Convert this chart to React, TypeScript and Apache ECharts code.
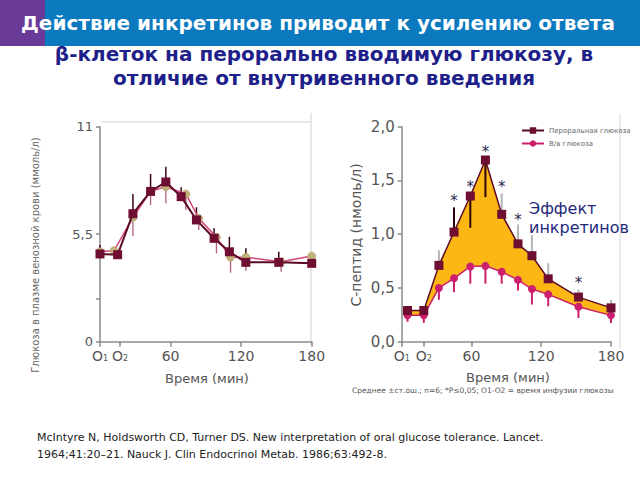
import React, { useEffect, useRef } from "react";
import * as echarts from "echarts";

// ---------- data ----------
const leftOralX = [0, 15, 28, 43, 56, 69, 82, 97, 110, 124, 152, 180];
const leftOralY = [4.49, 4.45, 6.55, 7.69, 8.17, 7.42, 6.23, 5.29, 4.6, 4.06, 4.06, 4.01];
const leftOralErrEnd = [4.95, 4.62, 7.56, 8.58, 8.95, 7.9, 6.88, 5.8, 5.37, 4.78, 4.6, 4.3];
const leftIvX = [0, 12, 28, 43, 56, 73, 84, 99, 111, 124, 154, 180];
const leftIvY = [4.6, 4.66, 6.36, 7.69, 7.93, 7.56, 6.31, 5.34, 4.32, 4.32, 4.09, 4.38];
const leftIvErrEnd = [4.3, 4.45, 5.41, 6.99, 7.08, 6.74, 5.71, 4.52, 3.53, 3.63, 3.58, 4.1];

const rightX = [5, 19, 32, 45, 59, 72, 86, 100, 112, 126, 152, 180];
const rightOralY = [0.29, 0.29, 0.71, 1.02, 1.355, 1.69, 1.185, 0.91, 0.8, 0.585, 0.415, 0.315];
const rightOralErrEnd = [0.33, 0.33, 0.85, 1.25, 1.06, 1.345, 1.38, 1.09, 0.99, 0.73, 0.485, 0.39];
const rightIvY = [0.245, 0.245, 0.5, 0.59, 0.7, 0.705, 0.65, 0.575, 0.49, 0.44, 0.325, 0.245];
const rightIvErrEnd = [0.185, 0.175, 0.39, 0.46, 0.54, 0.54, 0.54, 0.476, 0.346, 0.33, 0.22, 0.175];
const starX = [45, 59, 72, 86, 100, 152];
const starY = [1.35, 1.48, 1.8, 1.48, 1.17, 0.58];

const leftTickValues = [0, 17, 60, 120, 180];
const rightTickValues = [0, 19, 60, 120, 180];
const leftYLabels = [0, 5.5, 11];
const leftYTicks = [0, 2.2, 5.5, 11];

const seriesNames = ["Пероральная глюкоза", "В/в глюкоза"];
const titleLines = [
  "Действие инкретинов приводит к усилению ответа",
  "β-клеток на перорально вводимую глюкозу, в",
  "отличие от внутривенного введения",
];
const leftYName = "Глюкоза в плазме венозной крови (ммоль/л)";
const rightYName = "С-пептид (нмоль/л)";
const xName = "Время (мин)";
const effectText = ["Эффект", "инкретинов"];
const footnote = "Среднее ±ст.ош.; n=6; *P≤0,05; O1-O2 = время инфузии глюкозы";
const citation = [
  "McIntyre N, Holdsworth CD, Turner DS. New interpretation of oral glucose tolerance. Lancet.",
  "1964;41:20–21. Nauck J. Clin Endocrinol Metab. 1986;63:492-8.",
];

// ---------- styles ----------
const FONT = "DejaVu Sans";
const MAROON = "#6e0e32";
const MAROON_LINE = "#5a0a27";
const PINK = "#d4457a";
const TAN = "#c2b27a";
const MAGENTA = "#cc1f6e";
const ORANGE = "#fdb714";
const NAVY = "#1f1f8a";
const AXIS = "#8a8a8a";
const LABEL = "#555";
const darkOralErr = [3, 4, 5];

const zip = (xs: number[], ys: number[]) => xs.map((x, i) => [x, ys[i]]);
const zip3 = (xs: number[], ys: number[], es: number[]) => xs.map((x, i) => [x, ys[i], es[i]]);

const xLabelFormatter = (v: number, first: number, second: number) => {
  if (v === first) return "{o|O}{s|1}";
  if (v === second) return "{o|O}{s|2}";
  return String(v);
};

const rich = {
  o: { fontSize: 14, color: LABEL, fontFamily: FONT },
  s: { fontSize: 8, color: LABEL, fontFamily: FONT, verticalAlign: "bottom", padding: [6, 0, 0, 0] },
};

const errRender = (color: (i: number) => string, width: number) => (params: any, api: any) => {
  const p0 = api.coord([api.value(0), api.value(1)]);
  const p1 = api.coord([api.value(0), api.value(2)]);
  return {
    type: "line",
    shape: { x1: p0[0], y1: p0[1], x2: p1[0], y2: p1[1] },
    style: { stroke: color(params.dataIndex), lineWidth: width },
  };
};

export default function App() {
  const ref = useRef<HTMLDivElement>(null);

  useEffect(() => {
    if (!ref.current) return;
    const chart = echarts.init(ref.current, null, { renderer: "svg" });

    const option: any = {
      animation: false,
      backgroundColor: "#ffffff",
      legend: {
        data: seriesNames,
        orient: "vertical",
        left: 516,
        top: 122,
        itemWidth: 22,
        itemHeight: 8,
        itemGap: 6,
        textStyle: { fontSize: 7, color: "#666", fontFamily: FONT },
      },
      grid: [
        { left: 100, top: 126.7, width: 211.7, height: 215, containLabel: false },
        { left: 401.7, top: 126.7, width: 209.3, height: 215, containLabel: false },
      ],
      xAxis: [
        {
          gridIndex: 0,
          type: "value",
          min: 0,
          max: 180,
          splitLine: { show: false },
          axisLine: { lineStyle: { color: AXIS, width: 1.5 } },
          axisTick: { customValues: leftTickValues, length: 5, lineStyle: { color: AXIS, width: 1.5 } },
          axisLabel: {
            customValues: leftTickValues,
            formatter: (v: number) => xLabelFormatter(v, leftTickValues[0], leftTickValues[1]),
            rich,
            fontSize: 14,
            color: LABEL,
            fontFamily: FONT,
            margin: 7,
          },
        },
        {
          gridIndex: 1,
          type: "value",
          min: 0,
          max: 180,
          splitLine: { show: false },
          axisLine: { lineStyle: { color: AXIS, width: 1.5 } },
          axisTick: { customValues: rightTickValues, length: 5, lineStyle: { color: AXIS, width: 1.5 } },
          axisLabel: {
            customValues: rightTickValues,
            formatter: (v: number) => xLabelFormatter(v, rightTickValues[0], rightTickValues[1]),
            rich,
            fontSize: 14,
            color: LABEL,
            fontFamily: FONT,
            margin: 7,
          },
        },
      ],
      yAxis: [
        {
          gridIndex: 0,
          type: "value",
          min: 0,
          max: 11,
          splitLine: { show: false },
          axisLine: { show: true, lineStyle: { color: AXIS, width: 1.5 } },
          axisTick: { show: true, customValues: leftYTicks, length: 4, lineStyle: { color: AXIS, width: 1.5 } },
          axisLabel: {
            customValues: leftYLabels,
            formatter: (v: number) => String(v).replace(".", ","),
            fontSize: 13,
            color: LABEL,
            fontFamily: FONT,
            margin: 7,
          },
        },
        {
          gridIndex: 1,
          type: "value",
          min: 0,
          max: 2,
          interval: 0.5,
          splitLine: { show: false },
          axisLine: { show: true, lineStyle: { color: AXIS, width: 1.5 } },
          axisTick: { show: true, length: 4, lineStyle: { color: AXIS, width: 1.5 } },
          axisLabel: {
            formatter: (v: number) => v.toFixed(1).replace(".", ","),
            fontSize: 15,
            color: LABEL,
            fontFamily: FONT,
            margin: 7,
          },
        },
      ],
      series: [
        // ----- left chart -----
        {
          name: "left-oral-err",
          type: "custom",
          xAxisIndex: 0,
          yAxisIndex: 0,
          data: zip3(leftOralX, leftOralY, leftOralErrEnd),
          encode: { x: 0, y: [1, 2] },
          renderItem: errRender(() => "#3a0515", 1.5),
          z: 3,
        },
        {
          name: "left-iv-err",
          type: "custom",
          xAxisIndex: 0,
          yAxisIndex: 0,
          data: zip3(leftIvX, leftIvY, leftIvErrEnd),
          encode: { x: 0, y: [1, 2] },
          renderItem: errRender(() => "#b0607a", 1.3),
          z: 3,
        },
        {
          name: "left-iv",
          type: "line",
          xAxisIndex: 0,
          yAxisIndex: 0,
          data: zip(leftIvX, leftIvY),
          symbol: "circle",
          symbolSize: 8,
          lineStyle: { color: PINK, width: 1.5 },
          itemStyle: { color: TAN, borderColor: "#b09a60", borderWidth: 0.5 },
          z: 4,
        },
        {
          name: "left-oral",
          type: "line",
          xAxisIndex: 0,
          yAxisIndex: 0,
          data: zip(leftOralX, leftOralY),
          symbol: "rect",
          symbolSize: 9,
          lineStyle: { color: MAROON_LINE, width: 2 },
          itemStyle: { color: MAROON },
          z: 5,
        },
        // ----- right chart -----
        {
          name: "right-fill",
          type: "custom",
          xAxisIndex: 1,
          yAxisIndex: 1,
          data: [[rightX[0], rightOralY[0]]],
          renderItem: (params: any, api: any) => {
            if (params.dataIndex !== 0) return null;
            const top = rightX.map((x, i) => api.coord([x, rightOralY[i]]));
            const bottom = rightX.map((x, i) => api.coord([x, rightIvY[i]])).reverse();
            return {
              type: "polygon",
              shape: { points: top.concat(bottom) },
              style: { fill: ORANGE, stroke: ORANGE, lineWidth: 0.5 },
            };
          },
          z: 1,
        },
        {
          name: "right-oral-err",
          type: "custom",
          xAxisIndex: 1,
          yAxisIndex: 1,
          data: zip3(rightX, rightOralY, rightOralErrEnd),
          encode: { x: 0, y: [1, 2] },
          renderItem: errRender((i) => (darkOralErr.includes(i) ? "#2a0510" : "#b5b5b5"), 2),
          z: 3,
        },
        {
          name: "right-iv-err",
          type: "custom",
          xAxisIndex: 1,
          yAxisIndex: 1,
          data: zip3(rightX, rightIvY, rightIvErrEnd),
          encode: { x: 0, y: [1, 2] },
          renderItem: errRender(() => MAGENTA, 2),
          z: 3,
        },
        {
          name: seriesNames[1],
          type: "line",
          xAxisIndex: 1,
          yAxisIndex: 1,
          data: zip(rightX, rightIvY),
          symbol: "circle",
          symbolSize: 8,
          lineStyle: { color: MAGENTA, width: 1.5 },
          itemStyle: { color: MAGENTA },
          z: 4,
        },
        {
          name: seriesNames[0],
          type: "line",
          xAxisIndex: 1,
          yAxisIndex: 1,
          data: zip(rightX, rightOralY),
          symbol: "rect",
          symbolSize: 9,
          lineStyle: { color: MAROON_LINE, width: 1.5 },
          itemStyle: { color: MAROON },
          z: 5,
        },
        {
          name: "stars",
          type: "custom",
          xAxisIndex: 1,
          yAxisIndex: 1,
          data: zip(starX, starY),
          renderItem: (params: any, api: any) => {
            const p = api.coord([api.value(0), api.value(1)]);
            return {
              type: "text",
              x: p[0],
              y: p[1] + 4,
              style: {
                text: "*",
                fontSize: 15,
                fontFamily: FONT,
                fill: "#2a2a50",
                align: "center",
                verticalAlign: "middle",
              },
            };
          },
          z: 6,
        },
      ],
      graphic: [
        // title band
        { type: "rect", shape: { x: 45, y: 0, width: 595, height: 46 }, style: { fill: "#0a79be" }, z: 0 },
        { type: "rect", shape: { x: 0, y: 0, width: 45, height: 46 }, style: { fill: "#6a3a98" }, z: 0 },
        {
          type: "text",
          x: 318,
          y: 23,
          style: {
            text: titleLines[0],
            fill: "#ffffff",
            font: `bold 20px '${FONT}'`,
            align: "center",
            verticalAlign: "middle",
          },
          z: 1,
        },
        {
          type: "text",
          x: 324,
          y: 54,
          style: { text: titleLines[1], fill: NAVY, font: `bold 20px '${FONT}'`, align: "center", verticalAlign: "middle" },
        },
        {
          type: "text",
          x: 324,
          y: 78,
          style: { text: titleLines[2], fill: NAVY, font: `bold 20px '${FONT}'`, align: "center", verticalAlign: "middle" },
        },
        // frame lines
        { type: "line", shape: { x1: 102, y1: 122, x2: 311, y2: 122 }, style: { stroke: "#cfcfcf", lineWidth: 1 } },
        { type: "line", shape: { x1: 311, y1: 113, x2: 311, y2: 345 }, style: { stroke: "#cfcfcf", lineWidth: 1 } },
        { type: "line", shape: { x1: 620, y1: 113, x2: 620, y2: 348 }, style: { stroke: "#d5d5d5", lineWidth: 1 } },
        // axis names
        {
          type: "text",
          x: 35,
          y: 255,
          rotation: Math.PI / 2,
          style: { text: leftYName, fill: "#666", font: `10px '${FONT}'`, align: "center", verticalAlign: "middle" },
        },
        {
          type: "text",
          x: 356,
          y: 235,
          rotation: Math.PI / 2,
          style: { text: rightYName, fill: LABEL, font: `14px '${FONT}'`, align: "center", verticalAlign: "middle" },
        },
        {
          type: "text",
          x: 207,
          y: 378,
          style: { text: xName, fill: LABEL, font: `13px '${FONT}'`, align: "center", verticalAlign: "middle" },
        },
        {
          type: "text",
          x: 508,
          y: 377,
          style: { text: xName, fill: LABEL, font: `13px '${FONT}'`, align: "center", verticalAlign: "middle" },
        },
        // effect annotation
        {
          type: "text",
          x: 529,
          y: 208,
          style: { text: effectText[0], fill: "#1f2a7a", font: `16px '${FONT}'`, align: "left", verticalAlign: "middle" },
        },
        {
          type: "text",
          x: 529,
          y: 227,
          style: { text: effectText[1], fill: "#1f2a7a", font: `16px '${FONT}'`, align: "left", verticalAlign: "middle" },
        },
        // footnote and citation
        {
          type: "text",
          x: 352,
          y: 390.5,
          style: { text: footnote, fill: "#555", font: `7.5px '${FONT}'`, align: "left", verticalAlign: "middle" },
        },
        {
          type: "text",
          x: 37,
          y: 437,
          style: { text: citation[0], fill: "#222", font: `11px '${FONT}'`, align: "left", verticalAlign: "middle" },
        },
        {
          type: "text",
          x: 37,
          y: 454,
          style: { text: citation[1], fill: "#222", font: `11px '${FONT}'`, align: "left", verticalAlign: "middle" },
        },
      ],
    };

    chart.setOption(option);
    return () => chart.dispose();
  }, []);

  return (
    <div
      ref={ref}
      style={{ position: "fixed", left: 0, top: 0, width: 640, height: 480, background: "#fff" }}
    />
  );
}
